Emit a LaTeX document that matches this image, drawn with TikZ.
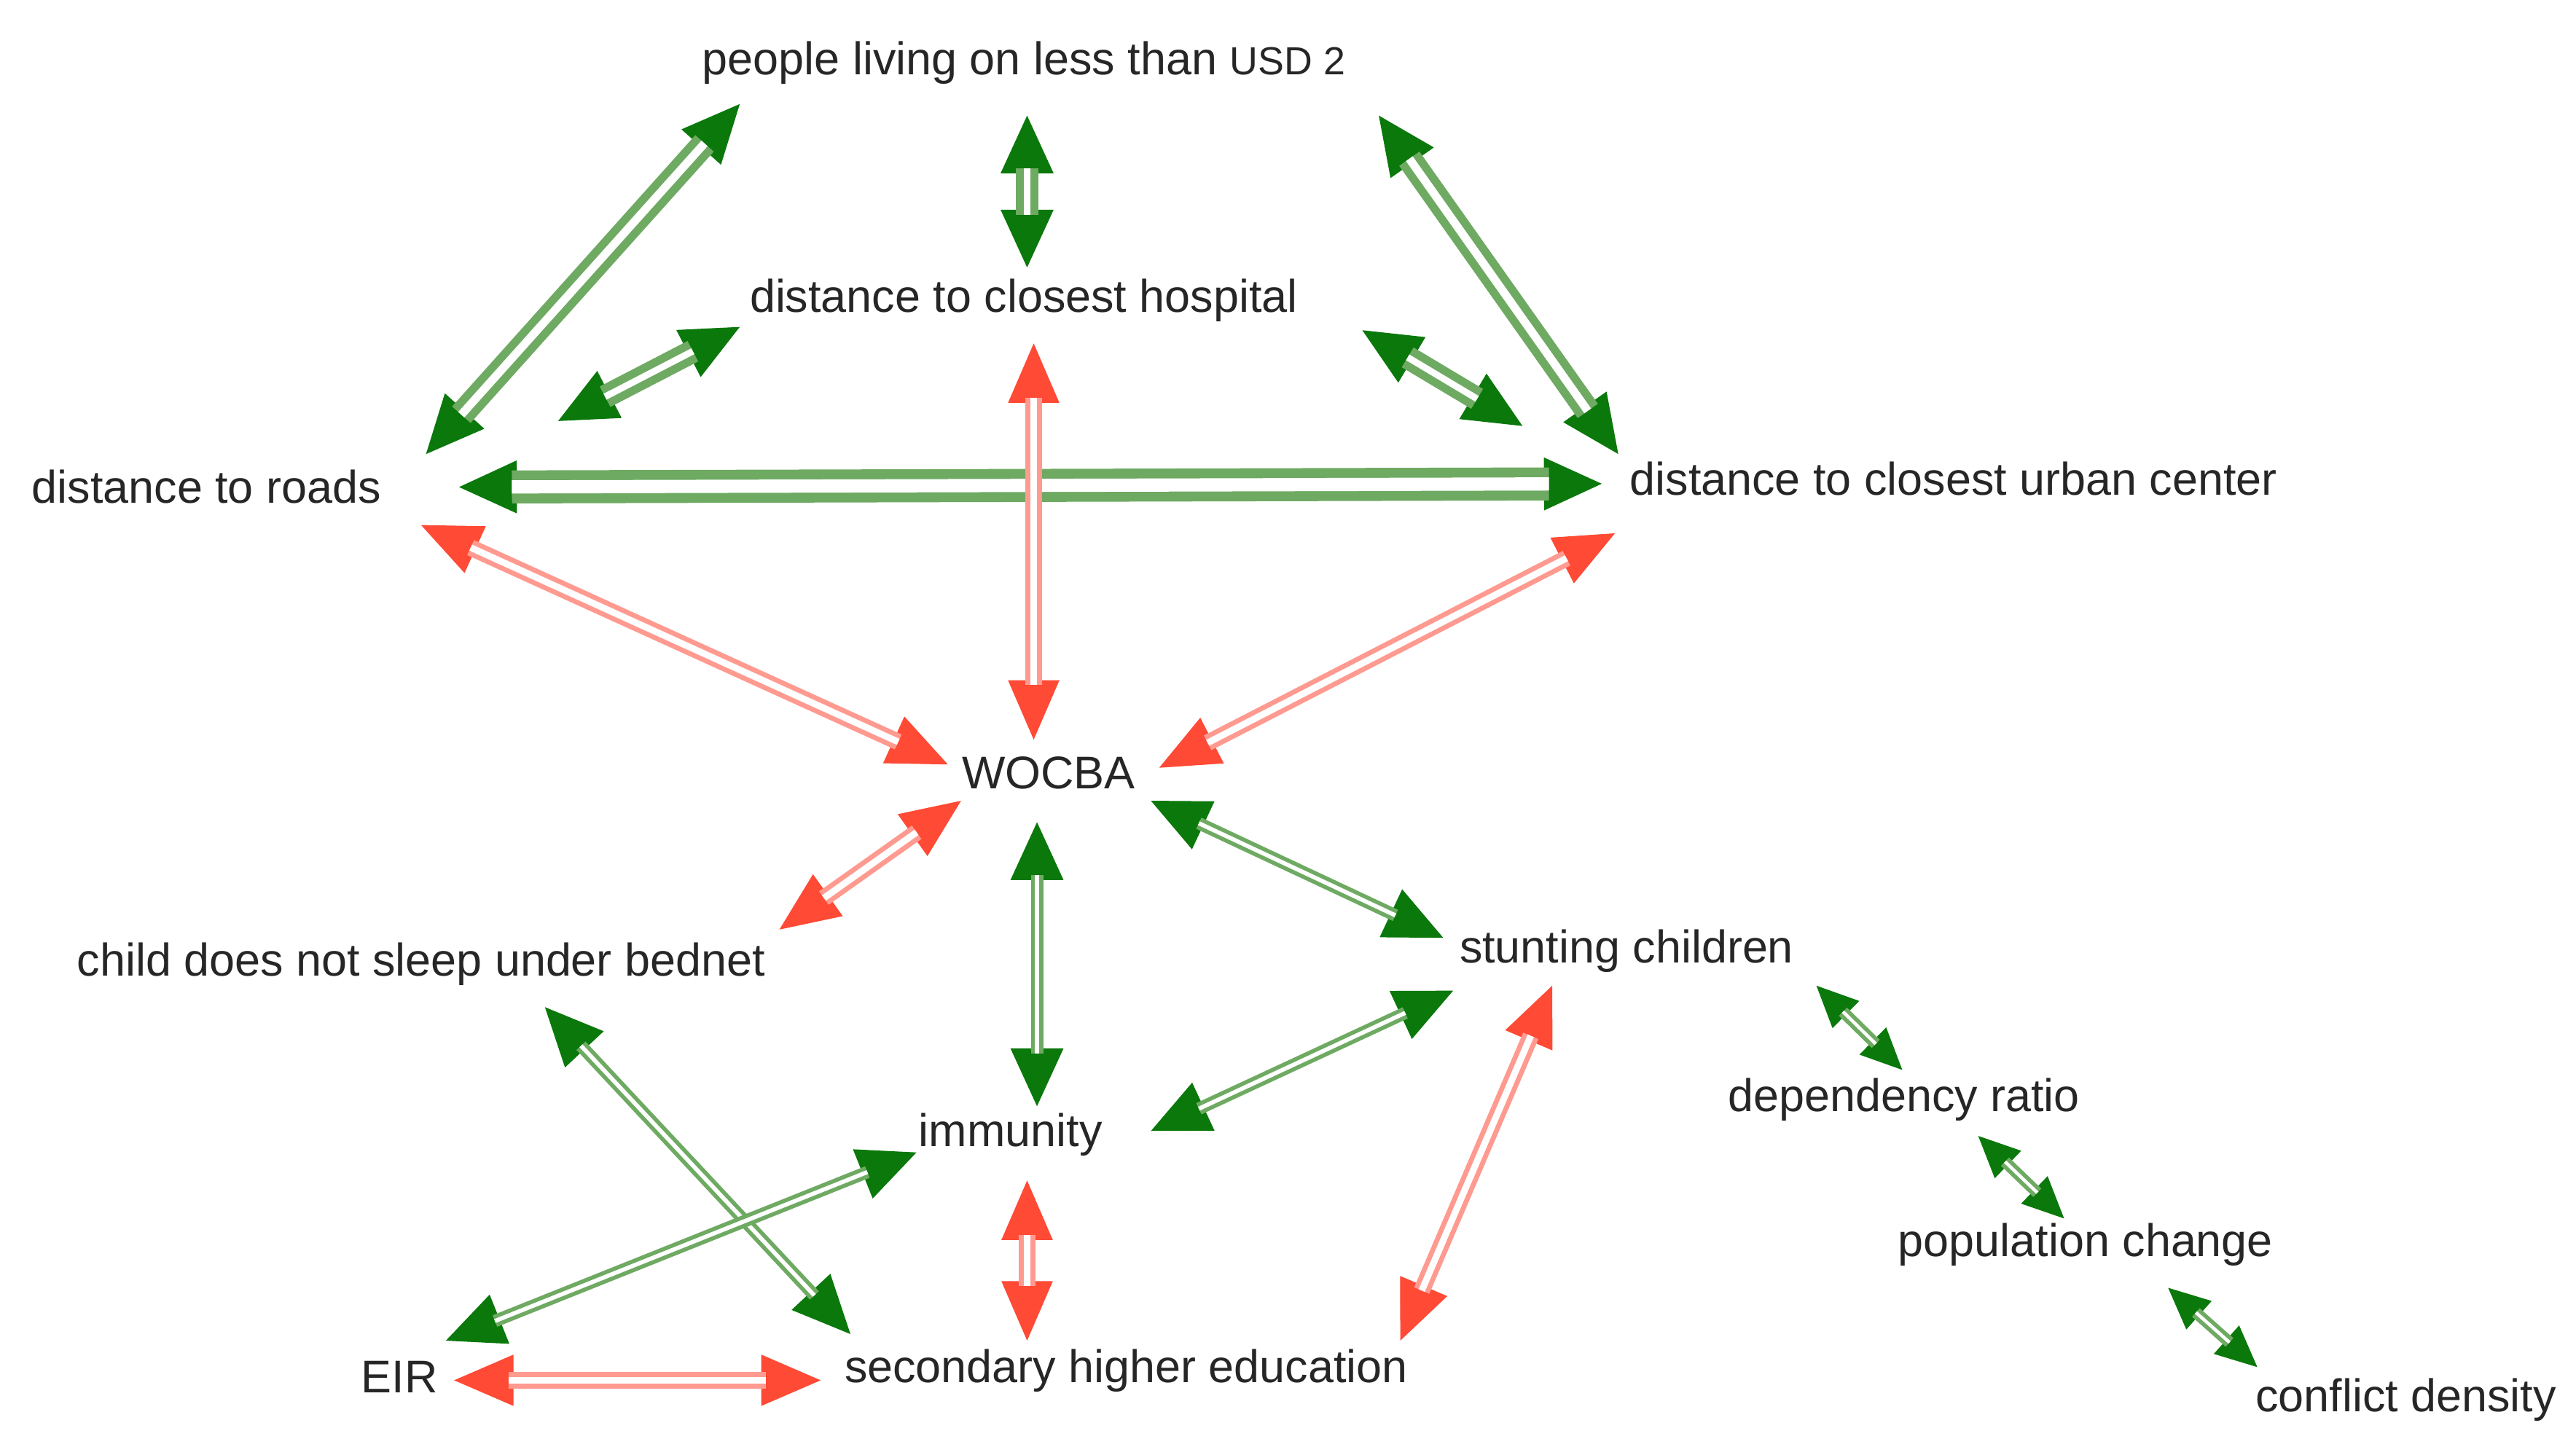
\documentclass[tikz,border=0pt]{standalone}
\usepackage{fontspec}
\setmainfont{Liberation Sans}
\usetikzlibrary{arrows.meta}
\definecolor{dg}{HTML}{0A780A}
\definecolor{lg}{HTML}{6EAA62}
\definecolor{dr}{HTML}{FF4A35}
\definecolor{lr}{HTML}{FF9A90}
\tikzset{
  lbl/.style={font=\fontsize{15.8}{18}\selectfont, text=black!85, inner sep=2pt},
  tipG/.style={draw=dg, line width=0.3pt, {Triangle[length=0.7cm,width=0.64cm,color=dg]}-{Triangle[length=0.7cm,width=0.64cm,color=dg]}},
  tipR/.style={draw=dr, line width=0.3pt, {Triangle[length=0.72cm,width=0.62cm,color=dr]}-{Triangle[length=0.72cm,width=0.62cm,color=dr]}},
  tipS/.style={draw=dg, line width=0.3pt, {Triangle[length=0.5cm,width=0.46cm,color=dg]}-{Triangle[length=0.5cm,width=0.46cm,color=dg]}},
  gthick/.style={draw=lg, double=white, line width=0.1cm, double distance=0.1cm, shorten <=0.64cm, shorten >=0.64cm},
  gmax/.style={draw=lg, double=white, line width=0.12cm, double distance=0.16cm, shorten <=0.64cm, shorten >=0.64cm},
  gmed/.style={draw=lg, double=white, line width=0.1cm, double distance=0.08cm, shorten <=0.64cm, shorten >=0.64cm},
  gthin/.style={draw=lg, double=white, line width=0.05cm, double distance=0.05cm, shorten <=0.64cm, shorten >=0.64cm},
  gsm/.style={draw=lg, double=white, line width=0.05cm, double distance=0.04cm, shorten <=0.45cm, shorten >=0.45cm},
  rthin/.style={draw=lr, double=white, line width=0.06cm, double distance=0.08cm, shorten <=0.66cm, shorten >=0.66cm},
}
\begin{document}
\begin{tikzpicture}[x=0.02cm,y=-0.02cm]
\useasboundingbox (0,0) rectangle (1560,876.4);
% nodes
\node[lbl] (people) at (620,38) {people living on less than {\fontsize{13.5}{15}\selectfont USD 2}};
\node[lbl] (hosp) at (620,182) {distance to closest hospital};
\node[lbl] (roads) at (125,295) {distance to roads};
\node[lbl] (urban) at (1183,290) {distance to closest urban center};
\node[lbl] (wocba) at (635,468) {WOCBA};
\node[lbl] (bednet) at (255,584) {child does not sleep under bednet};
\node[lbl] (stunt) at (985,576) {stunting children};
\node[lbl] (dep) at (1153,666) {dependency ratio};
\node[lbl] (imm) at (612,687) {immunity};
\node[lbl] (pop) at (1263,754) {population change};
\node[lbl] (eir) at (242,834) {EIR};
\node[lbl] (sec) at (682,830) {secondary higher education};
\node[lbl] (conf) at (1457,848) {conflict density};
% endpoints
\coordinate (a1) at (258,275); \coordinate (b1) at (448,63);
\coordinate (a2) at (622,70); \coordinate (b2) at (622,162);
\coordinate (a3) at (835,70); \coordinate (b3) at (980,275);
\coordinate (a4) at (338,255); \coordinate (b4) at (448,198);
\coordinate (a5) at (825,200); \coordinate (b5) at (922,258);
\coordinate (a6) at (278,295); \coordinate (b6) at (970,293);
\coordinate (a7) at (255,318); \coordinate (b7) at (574,463);
\coordinate (a8) at (626,208); \coordinate (b8) at (626,448);
\coordinate (a9) at (978,323); \coordinate (b9) at (702,465);
\coordinate (a10) at (582,485); \coordinate (b10) at (472,563);
\coordinate (a11) at (628,498); \coordinate (b11) at (628,670);
\coordinate (a12) at (697,485); \coordinate (b12) at (874,568);
\coordinate (a13) at (880,600); \coordinate (b13) at (697,685);
\coordinate (a14) at (940,597); \coordinate (b14) at (848,812);
\coordinate (a15) at (330,610); \coordinate (b15) at (515,808);
\coordinate (a16) at (555,698); \coordinate (b16) at (270,812);
\coordinate (a17) at (622,715); \coordinate (b17) at (622,812);
\coordinate (a18) at (275,836); \coordinate (b18) at (497,836);
\coordinate (a19) at (1100,597); \coordinate (b19) at (1152,648);
\coordinate (a20) at (1198,688); \coordinate (b20) at (1250,738);
\coordinate (a21) at (1313,780); \coordinate (b21) at (1367,828);
% connectors
\foreach \i/\t/\s in {1/tipG/gthick,2/tipG/gmed,3/tipG/gthick,4/tipG/gmed,5/tipG/gmed,6/tipG/gmax,
  7/tipR/rthin,8/tipR/rthin,9/tipR/rthin,10/tipR/rthin,11/tipG/gthin,12/tipG/gthin,13/tipG/gthin,
  14/tipR/rthin,15/tipG/gthin,16/tipG/gthin,17/tipR/rthin,18/tipR/rthin,19/tipS/gsm,20/tipS/gsm,21/tipS/gsm}{
  \draw[\t] (a\i) -- (b\i);
  \draw[\s] (a\i) -- (b\i);
}
\end{tikzpicture}
\end{document}
